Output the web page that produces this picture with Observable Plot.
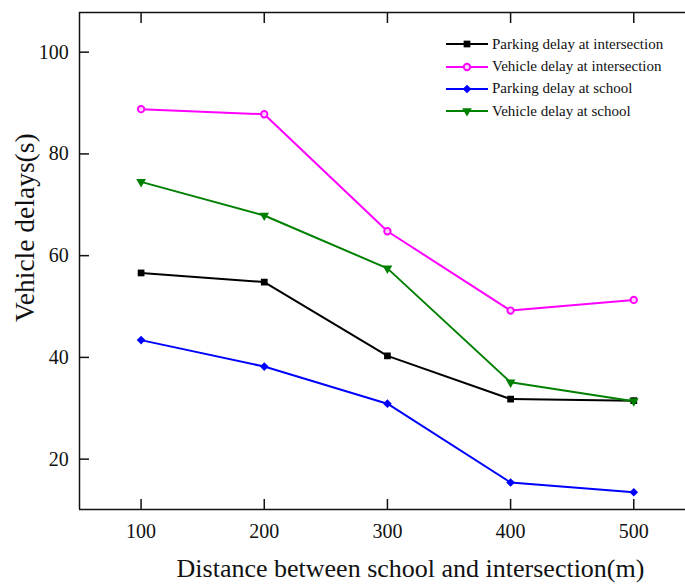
<!DOCTYPE html>
<html>
<head>
<meta charset="utf-8">
<script src="https://cdn.jsdelivr.net/npm/d3@7"></script>
<script src="https://cdn.jsdelivr.net/npm/@observablehq/plot@0.6"></script>
<style>
  body { margin: 0; background: #fff; }
  #chart { position: relative; width: 685px; height: 585px; font-family: "Liberation Serif", "Times New Roman", serif; }
  #legend { position: absolute; left: 446px; top: 33px; }
  #legend .row { display: flex; align-items: center; height: 22.4px; font-size: 15px; color: #111; white-space: nowrap; }
  #legend svg { margin-right: 4px; }
</style>
</head>
<body>
<div id="chart"><div id="legend"></div></div>
<script>
// Distance between school and intersection (m)
const distances = [100, 200, 300, 400, 500];

// Delay series (s)
const parkingIntersection = [56.6, 54.8, 40.3, 31.8, 31.5];
const vehicleIntersection = [88.8, 87.8, 64.8, 49.2, 51.3];
const parkingSchool = [43.4, 38.2, 30.9, 15.4, 13.5];
const vehicleSchool = [74.5, 67.9, 57.5, 35.1, 31.4];

const seriesNames = [
  "Parking delay at intersection",
  "Vehicle delay at intersection",
  "Parking delay at school",
  "Vehicle delay at school"
];
const seriesValues = [parkingIntersection, vehicleIntersection, parkingSchool, vehicleSchool];
const seriesColors = ["#000000", "#ff00ff", "#0000ff", "#008000"];

const xTicks = [100, 200, 300, 400, 500];
const yTicks = [20, 40, 60, 80, 100];
const xTitle = "Distance between school and intersection(m)";
const yTitle = "Vehicle delays(s)";

const xDomain = [50, 542];
const yDomain = [10.1, 107.8];
const fontFamily = '"Liberation Serif", "Times New Roman", serif';

// marker style per series
const markerStyles = [
  {symbol: "square", r: 3.8, fill: seriesColors[0]},
  {symbol: "circle", r: 3.2, fill: "#ffd0ff", stroke: seriesColors[1], strokeWidth: 1.9},
  {symbol: "diamond2", r: 3.9, fill: seriesColors[2]},
  {symbol: "triangle", r: 3.6, fill: seriesColors[3], rotate: 180}
];

const rows = seriesNames.flatMap((name, s) =>
  distances.map((d, i) => ({series: name, distance: d, delay: seriesValues[s][i]}))
);

const lineMarks = seriesNames.map((name, s) =>
  Plot.line(rows.filter(r => r.series === name), {
    x: "distance", y: "delay", stroke: seriesColors[s], strokeWidth: 2
  })
);
const dotMarks = seriesNames.map((name, s) =>
  Plot.dot(rows.filter(r => r.series === name), {
    x: "distance", y: "delay", ...markerStyles[s]
  })
);

const plot = Plot.plot({
  width: 685,
  height: 585,
  marginLeft: 79,
  marginRight: 0,
  marginTop: 12,
  marginBottom: 76,
  style: {fontFamily, fontSize: "20px", color: "#111", background: "transparent"},
  x: {domain: xDomain},
  y: {domain: yDomain},
  marks: [
    Plot.ruleY([yDomain[1]], {stroke: "#111", strokeWidth: 1.5}),
    Plot.ruleX([xDomain[0]], {stroke: "#111", strokeWidth: 1.5}),
    Plot.ruleY([yDomain[0]], {stroke: "#111", strokeWidth: 1.5}),
    Plot.axisX(xTicks, {anchor: "bottom", tickSize: -10, tickPadding: 24, strokeWidth: 1.5, fontSize: 20, label: null}),
    Plot.axisX(xTicks, {anchor: "top", tickSize: -10, tickFormat: () => "", strokeWidth: 1.5, label: null}),
    Plot.axisY(yTicks, {anchor: "left", tickSize: -10, tickPadding: 20.7, strokeWidth: 1.5, fontSize: 20, label: null}),
    ...lineMarks,
    ...dotMarks,
    Plot.text([xTitle], {frameAnchor: "bottom", dx: 28, dy: 67.8, fontSize: 26, fill: "#111"}),
    Plot.text([yTitle], {frameAnchor: "left", rotate: -90, dx: -54, dy: 61, fontSize: 27.5, fill: "#111"})
  ]
});

const chart = document.getElementById("chart");
chart.insertBefore(plot, chart.firstChild);

// legend: line + marker swatch for each series
const legend = d3.select("#legend");
seriesNames.forEach((name, s) => {
  const row = legend.append("div").attr("class", "row");
  const sw = row.append("svg").attr("width", 42).attr("height", 14);
  sw.append("line").attr("x1", 0).attr("x2", 42).attr("y1", 7).attr("y2", 7)
    .attr("stroke", seriesColors[s]).attr("stroke-width", 2);
  const m = markerStyles[s];
  const symbolType = {square: d3.symbolSquare, circle: d3.symbolCircle, diamond2: d3.symbolDiamond2, triangle: d3.symbolTriangle}[m.symbol];
  sw.append("path")
    .attr("d", d3.symbol(symbolType, Math.PI * m.r * m.r)())
    .attr("transform", `translate(21,7) rotate(${m.rotate || 0})`)
    .attr("fill", m.fill)
    .attr("stroke", m.stroke || "none")
    .attr("stroke-width", m.strokeWidth || 0);
  row.append("span").text(name);
});
</script>
</body>
</html>
